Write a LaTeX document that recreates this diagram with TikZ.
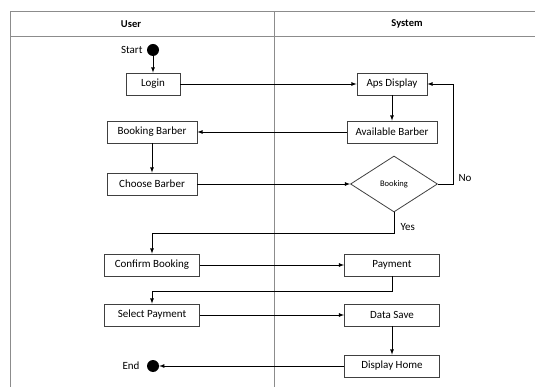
\documentclass[tikz,border=0pt]{standalone}
\usepackage{fontspec}
\setmainfont{Carlito}
\usetikzlibrary{arrows,shapes.geometric}

\tikzset{
  actbox/.style={draw=black!75, thick, minimum width=95, minimum height=22, inner sep=1pt, font=\fontsize{11}{13}\selectfont},
  dot/.style={circle, fill=black, minimum size=12, inner sep=0pt},
  flow/.style={-latex, thick}
}

\begin{document}
\begin{tikzpicture}[x=1pt,y=-1pt]
    \useasboundingbox (0,0) rectangle (535,387);

    % lanes
    \draw [black!45, thick] (535,11) -- (10,11) -- (10,387);
    \draw [black!45, thick] (10,36) -- (535,36);
    \draw [black!45, thick] (274,11) -- (274,387);
    \node [font=\bfseries\fontsize{10.5}{12}\selectfont] (user) at (131,24) {User};
    \node [font=\bfseries\fontsize{10.5}{12}\selectfont] (system) at (407,24) {System};

    % user side
    \node [dot] (start) at (153,50) {};
    \node [left, font=\fontsize{11}{13}\selectfont] (startlbl) at (146,50) {Start};
    \node [actbox, minimum width=54] (login) at (153,84) {Login};
    \node [actbox, minimum width=90] (bookbarber) at (152,132) {Booking Barber};
    \node [actbox, minimum width=90] (choose) at (152,184) {Choose Barber};
    \node [actbox] (confirm) at (152,265) {Confirm Booking};
    \node [actbox] (selpay) at (152,315) {Select Payment};
    \node [dot] (end) at (153,366) {};
    \node [left, font=\fontsize{11}{13}\selectfont] (endlbl) at (143,366) {End};

    % system side
    \node [actbox, minimum width=70] (aps) at (392,84) {Aps Display};
    \node [actbox, minimum width=90] (avail) at (392,132) {Available Barber};
    \node [draw=black!75, thick, diamond, minimum width=87, minimum height=56, inner sep=0pt, font=\fontsize{8.5}{10}\selectfont] (booking) at (394,184) {Booking};
    \node [actbox] (payment) at (392,265) {Payment};
    \node [actbox] (datasave) at (392,315) {Data Save};
    \node [actbox] (home) at (392,366) {Display Home};

    % flows
    \draw [flow] (start) -- (login);
    \draw [flow] (login) -- (aps);
    \draw [flow] (aps) -- (avail);
    \draw [flow] (avail) -- (bookbarber);
    \draw [flow] (bookbarber) -- (choose);
    \draw [flow] (choose) -- (booking);
    \draw [flow] (booking.east) -- ++(15,0) |- (aps.east);
    \node [right, font=\fontsize{11}{13}\selectfont] (no) at (455,178) {No};
    \draw [flow] (booking.south) -- ++(0,21) -| (confirm.north);
    \node [right, font=\fontsize{11}{13}\selectfont] (yes) at (397,227) {Yes};
    \draw [flow] (confirm) -- (payment);
    \draw [flow] (payment.south) -- ++(0,15) -| (selpay.north);
    \draw [flow] (selpay) -- (datasave);
    \draw [flow] (datasave) -- (home);
    \draw [flow] (home) -- (end);
\end{tikzpicture}
\end{document}
